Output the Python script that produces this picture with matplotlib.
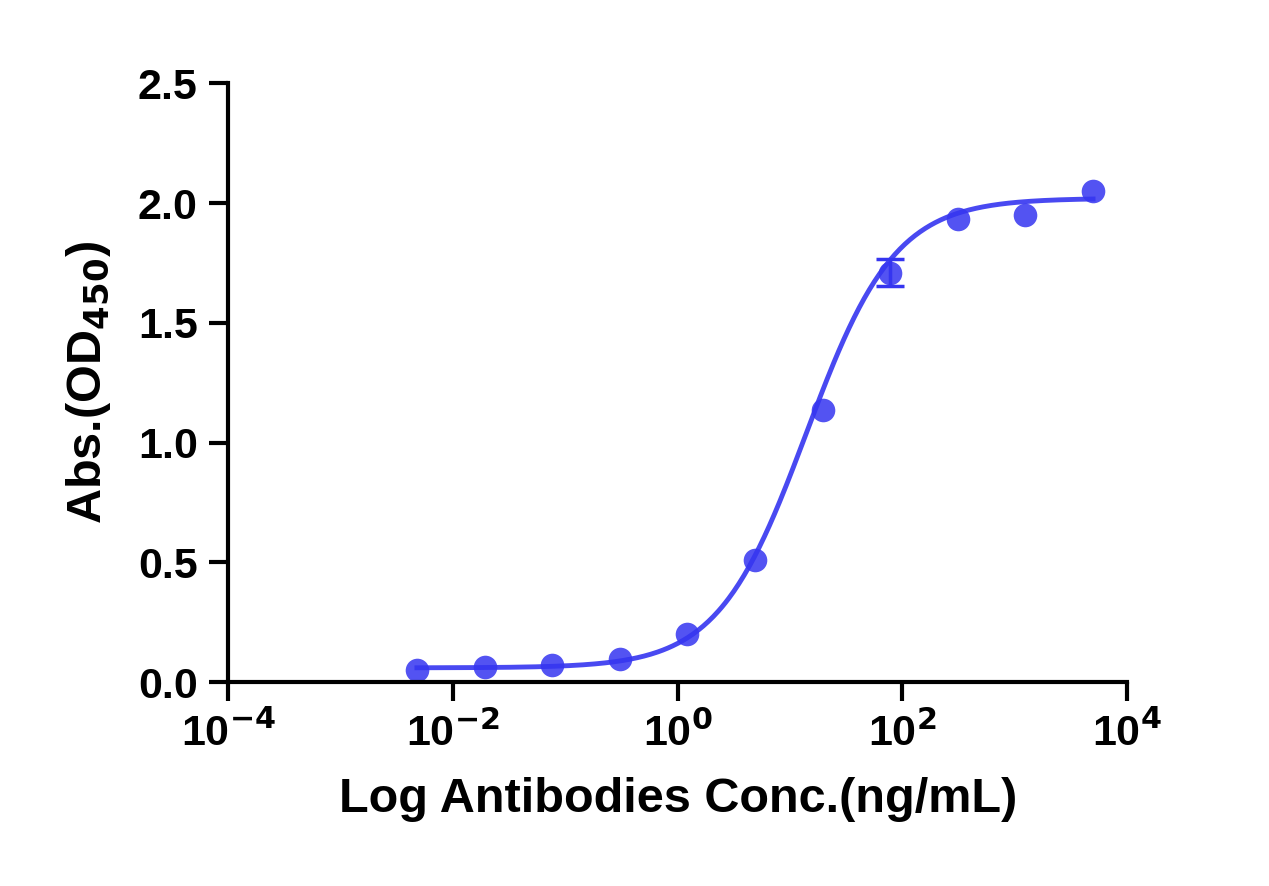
import numpy as np
import matplotlib
matplotlib.use("Agg")
import matplotlib.pyplot as plt
from matplotlib.ticker import FixedLocator, NullLocator

conc = [5000/4**k for k in range(10, -1, -1)]
od = [0.052, 0.065, 0.07, 0.095, 0.2, 0.51, 1.135, 1.71, 1.935, 1.95, 2.05]
err = [0, 0, 0, 0, 0, 0, 0, 0.055, 0, 0, 0]

# 4PL curve parameters
bottom, top, ec50, hill = 0.06, 2.02, 14.0, 1.1

plt.rcParams['font.family'] = ['Liberation Sans', 'DejaVu Sans']
plt.rcParams['font.weight'] = 'bold'
plt.rcParams['mathtext.default'] = 'bf'
plt.rcParams['axes.unicode_minus'] = False
fig = plt.figure(figsize=(12.69, 8.86), dpi=100)
ax = fig.add_axes([0.18, 0.23, 0.708, 0.676])
color = '#3535f0'
xs = np.logspace(np.log10(conc[0]), np.log10(conc[-1]), 400)
ys = bottom + (top - bottom) / (1 + (ec50 / xs) ** hill)
ax.plot(xs, ys, color=color, lw=3.5, alpha=0.9)
ax.plot(conc, od, 'o', color=color, ms=17, alpha=0.85, mec='none')
ci = [i for i, e in enumerate(err) if e > 0]
ax.errorbar([conc[i] for i in ci], [od[i] for i in ci], yerr=[err[i] for i in ci],
            fmt='none', ecolor=color, elinewidth=2.5, capsize=10, capthick=2.5)
ax.set_xscale('log')
ax.set_xlim(1e-4, 1e4)
ax.set_ylim(0, 2.5)
ax.xaxis.set_major_locator(FixedLocator([1e-4, 1e-2, 1, 1e2, 1e4]))
ax.xaxis.set_minor_locator(NullLocator())
ax.set_yticks([0, 0.5, 1.0, 1.5, 2.0, 2.5])
ax.set_yticklabels(['0.0', '0.5', '1.0', '1.5', '2.0', '2.5'])
ax.set_xticklabels([r'10$^{-4}$', r'10$^{-2}$', r'10$^{0}$', r'10$^{2}$', r'10$^{4}$'])
for s in ['top', 'right']:
    ax.spines[s].set_visible(False)
for s in ['left', 'bottom']:
    ax.spines[s].set_linewidth(3)
ax.tick_params(width=3, length=14, labelsize=31, pad=8)
ax.set_xlabel('Log Antibodies Conc.(ng/mL)', fontsize=35, fontweight='bold', labelpad=16)
ax.set_ylabel(r'Abs.(OD$_{450}$)', fontsize=35, fontweight='bold', labelpad=18)
fig.savefig('out.png', dpi=100)
